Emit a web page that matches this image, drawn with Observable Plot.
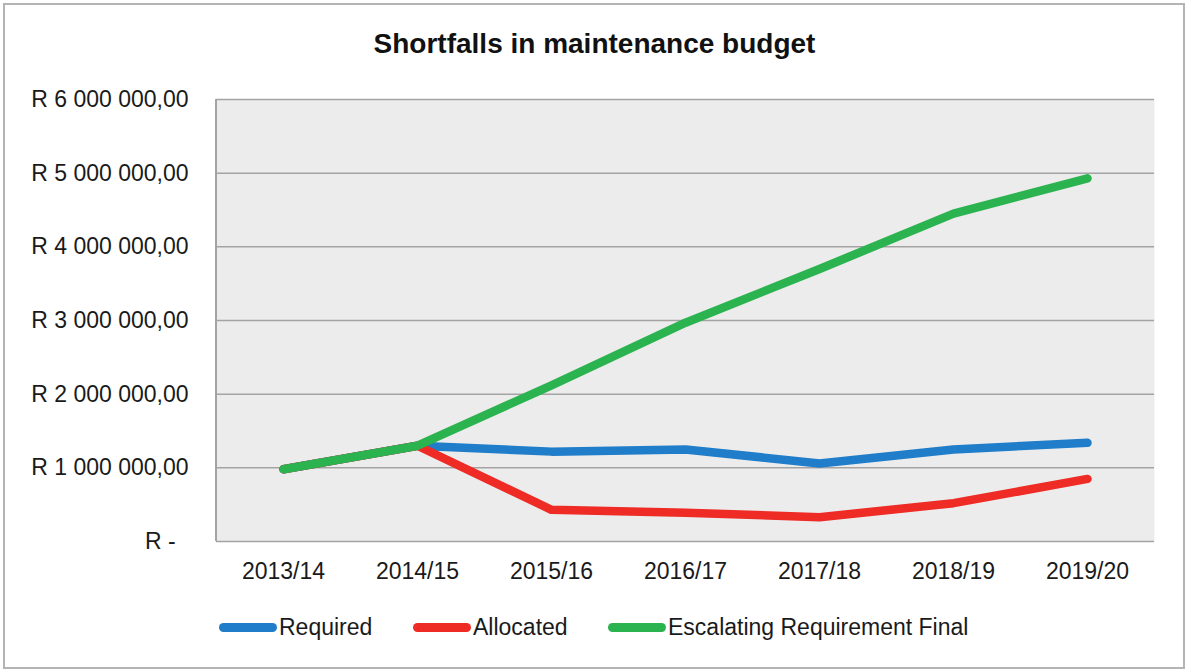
<!DOCTYPE html>
<html>
<head>
<meta charset="utf-8">
<script src="https://cdn.jsdelivr.net/npm/d3@7"></script>
<script src="https://cdn.jsdelivr.net/npm/@observablehq/plot@0.6"></script>
<style>
  html, body { margin: 0; padding: 0; background: #fff; }
  #wrap { position: relative; width: 1189px; height: 670px; overflow: hidden; font-family: "Liberation Sans", Arial, sans-serif; }
  #border { position: absolute; left: 3px; top: 3px; width: 1178px; height: 662px; border: 2px solid #b4b4b4; }
  #title { position: absolute; left: 0; width: 1189px; top: 28px; text-align: center; font-size: 28px; font-weight: bold; color: #111; }
  #chart { position: absolute; left: 0; top: 0; }
  .leg { position: absolute; top: 614px; display: flex; align-items: center; font-size: 23px; color: #1a1a1a; }
  .sw { display: inline-block; width: 58px; height: 9px; border-radius: 4.5px; margin-right: 2px; }
</style>
</head>
<body>
<div id="wrap">
  <div id="border"></div>
  <div id="chart"></div>
  <div id="title">Shortfalls in maintenance budget</div>
  <div id="legend"></div>
</div>
<script>
const categories = ["2013/14", "2014/15", "2015/16", "2016/17", "2017/18", "2018/19", "2019/20"];
const required   = [980000, 1300000, 1220000, 1250000, 1060000, 1250000, 1340000];
const allocated  = [980000, 1300000, 430000, 390000, 330000, 520000, 850000];
const escalating = [980000, 1300000, 2120000, 2970000, 3700000, 4450000, 4930000];
const seriesNames = ["Required", "Allocated", "Escalating Requirement Final"];
const seriesColors = ["#1f7dc9", "#ee2b24", "#2bb350"];
const yTicks = [0, 1000000, 2000000, 3000000, 4000000, 5000000, 6000000];

const seriesValues = [required, allocated, escalating];
const rows = [];
seriesNames.forEach((s, i) => categories.forEach((c, j) => rows.push({series: s, cat: c, value: seriesValues[i][j]})));

const loc = d3.formatLocale({decimal: ",", thousands: " ", grouping: [3], currency: ["R ", ""]});
const fmt = loc.format("$,.2f");
const yFmt = d => d === 0 ? "R -\u2007" : fmt(d);

const plot = Plot.plot({
  width: 1189,
  height: 670,
  marginLeft: 216,
  marginRight: 35,
  marginTop: 99,
  marginBottom: 129,
  style: {fontFamily: "Liberation Sans, Arial, sans-serif", fontSize: "23px", color: "#1a1a1a", background: "transparent"},
  x: {type: "point", domain: categories, padding: 0.5, label: null},
  y: {domain: [0, 6000000], label: null},
  color: {domain: seriesNames, range: seriesColors},
  marks: [
    Plot.frame({fill: "#ececec", stroke: null}),
    Plot.ruleY(yTicks, {stroke: "#a3a3a3", strokeWidth: 1.5}),
    Plot.axisY({ticks: yTicks, tickFormat: yFmt, tickSize: 0, tickPadding: 28, fontSize: 23}),
    Plot.axisX({tickSize: 0, tickPadding: 21, fontSize: 23}),
    Plot.line(rows, {x: "cat", y: "value", z: "series", stroke: "series", strokeWidth: 8.5, strokeLinecap: "round", strokeLinejoin: "round"})
  ]
});
// left border of plot area
const svg = d3.select(plot);
svg.append("line").attr("x1", 216).attr("x2", 216).attr("y1", 99).attr("y2", 541).attr("stroke", "#a3a3a3").attr("stroke-width", 2);
document.getElementById("chart").appendChild(plot);

const legendPos = [219, 413, 608];
const legend = document.getElementById("legend");
seriesNames.forEach((s, i) => {
  const d = document.createElement("div");
  d.className = "leg";
  d.style.left = legendPos[i] + "px";
  d.innerHTML = `<span class="sw" style="background:${seriesColors[i]}"></span><span>${s}</span>`;
  legend.appendChild(d);
});
</script>
</body>
</html>
